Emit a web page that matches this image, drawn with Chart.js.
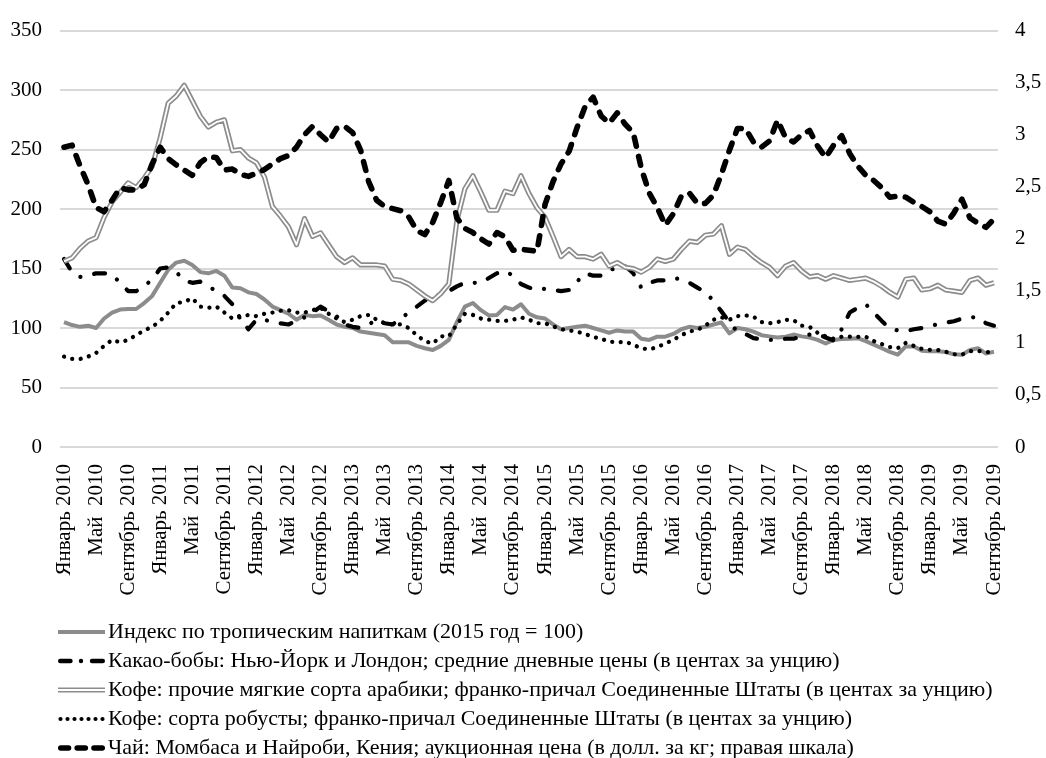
<!DOCTYPE html>
<html>
<head>
<meta charset="utf-8">
<script src="https://cdn.jsdelivr.net/npm/chart.js@4.4.1/dist/chart.umd.min.js"></script>
<style>
  html, body { margin: 0; padding: 0; background: #ffffff; }
  #wrap { width: 1046px; height: 758px; }
</style>
</head>
<body>
<div id="wrap"><canvas id="chart" width="1046" height="758"></canvas></div>
<script>
// Monthly series, January 2010 - September 2019
const START_YEAR = 2010;
const MONTH_COUNT = 117;
const MONTH_NAMES = ['Январь', 'Февраль', 'Март', 'Апрель', 'Май', 'Июнь',
  'Июль', 'Август', 'Сентябрь', 'Октябрь', 'Ноябрь', 'Декабрь'];

// Axis labels shown every fourth month
const TICK_LABELS = [
  'Январь 2010', 'Май  2010', 'Сентябрь 2010',
  'Январь 2011', 'Май  2011', 'Сентябрь 2011',
  'Январь 2012', 'Май  2012', 'Сентябрь 2012',
  'Январь 2013', 'Май  2013', 'Сентябрь 2013',
  'Январь 2014', 'Май  2014', 'Сентябрь 2014',
  'Январь 2015', 'Май  2015', 'Сентябрь 2015',
  'Январь 2016', 'Май  2016', 'Сентябрь 2016',
  'Январь 2017', 'Май  2017', 'Сентябрь 2017',
  'Январь 2018', 'Май  2018', 'Сентябрь 2018',
  'Январь 2019', 'Май  2019', 'Сентябрь 2019'
];
const LEFT_TICKS = [0, 50, 100, 150, 200, 250, 300, 350];
const RIGHT_TICKS = [0, 0.5, 1, 1.5, 2, 2.5, 3, 3.5, 4];

const SERIES_NAMES = [
  'Индекс по тропическим напиткам (2015 год = 100)',
  'Какао-бобы: Нью-Йорк и Лондон; средние дневные цены (в центах за унцию)',
  'Кофе: прочие мягкие сорта арабики; франко-причал Соединенные Штаты (в центах за унцию)',
  'Кофе: сорта робусты; франко-причал Соединенные Штаты (в центах за унцию)',
  'Чай: Момбаса и Найроби, Кения; аукционная цена (в долл. за кг; правая шкала)'
];

// Tropical beverages index (2015 = 100)
const BEVERAGE_INDEX = [
  105, 102.5, 101, 102, 100, 108, 113, 115.5, 116, 116, 121, 127,
  138, 149, 155, 156.5, 153, 147, 146, 148, 144, 134, 133.5, 130,
  128.6, 124, 118, 115, 112, 107, 111, 110, 110.5, 107, 103, 101,
  100, 97, 96, 95, 94, 88, 88, 88, 85, 83, 81.5, 85,
  90, 105, 118, 121, 115, 110.6, 111, 117.6, 115.5, 120, 112, 109,
  108, 103, 99, 100, 101, 102, 100, 98, 96, 98, 97, 97,
  91, 90, 92.7, 92.7, 95, 99, 101, 100, 101, 103, 104.6, 95.5,
  100, 99, 97, 94, 93, 92, 92.7, 94.5, 93, 92, 90, 87,
  90, 90.8, 91, 91.5, 89, 86, 83, 80, 77.6, 84.5, 84.5, 81,
  80.5, 80.5, 79.8, 78, 77.6, 81.5, 83, 78.5, 80
];

// Cocoa beans, US cents
const COCOA = [
  158, 147, 143, 144, 146, 146, 145, 138, 131, 131, 135, 141,
  150, 151, 147, 140, 138, 139, 135, 131, 127, 120, 108, 99,
  107, 107, 105, 104, 103, 106, 109, 113, 118, 114, 110, 103,
  101, 100, 103, 107, 104, 103, 108, 113, 118, 123, 127, 128,
  131, 135, 138, 138, 138, 142, 146, 148, 144, 137, 134, 132,
  133, 132, 131, 132, 139, 146, 144, 144, 149, 150, 152, 146,
  134, 138, 140, 140, 142, 141, 138, 134, 130, 123, 114, 105,
  97, 95, 91.5, 90.5, 90, 90.5, 91, 91, 93, 94.5, 95, 92,
  89.5, 99, 113, 117, 120, 113, 106, 99.5, 98, 97.4, 99, 100,
  102, 103, 104.5, 105.7, 108, 109, 109, 104, 102
];

// Coffee, other mild arabicas, US cents
const ARABICA = [
  156, 159, 167, 173, 176, 193, 206, 214, 222, 218, 226, 236,
  260, 289, 295, 304, 291, 278, 269, 273, 275, 249, 250, 243,
  239, 227, 202, 194, 185, 170, 192, 177, 180, 170, 160, 155,
  159, 153, 153, 153, 152, 141, 140, 137, 132, 127, 123, 129,
  137, 190, 217, 228, 214, 199, 199, 215, 213, 228, 213, 201,
  193, 177, 160, 166, 160, 160, 158, 162, 152, 155, 151, 150,
  147, 151, 158, 156, 158, 166, 173, 172, 178, 179, 186, 162,
  168, 166, 160, 155, 151, 144, 152, 155, 148, 143, 144, 141,
  144, 142, 140, 141, 142, 139, 135, 130, 126, 141, 142, 132,
  133, 136, 132, 131, 130, 140, 142, 136, 138
];

// Coffee, robusta, US cents
const ROBUSTA = [
  76, 74, 74, 76, 79, 85, 90, 88, 90, 94, 98, 101,
  106, 113, 121, 122, 125, 118, 117, 118, 113, 108, 109, 111,
  110, 112, 113, 114.5, 115, 113, 113, 115, 117, 112, 108, 105,
  107, 110, 111, 107, 104, 103, 103, 100, 94, 89, 87, 93,
  93, 103, 112, 111, 108, 107, 106, 106, 107, 109, 107, 104,
  104, 101.5, 99, 98, 97, 95, 92.5, 91, 88.5, 88, 88.5, 86,
  83, 82, 84, 87, 90, 94, 97, 98.5, 102, 107, 109, 107,
  110, 110.7, 109.5, 105, 104, 105, 107, 106.6, 102, 101, 96, 93,
  91, 92.7, 92.7, 92.5, 92.7, 89, 86.5, 84, 83, 87.5, 85, 82.5,
  81.7, 81.5, 80, 78, 77.6, 80.5, 80.7, 80, 79
];

// Tea, Mombasa / Nairobi auction, USD per kg (right scale)
const TEA = [
  2.88, 2.90, 2.70, 2.52, 2.30, 2.26, 2.37, 2.49, 2.47, 2.47, 2.52, 2.72,
  2.88, 2.77, 2.71, 2.66, 2.61, 2.73, 2.79, 2.78, 2.66, 2.67, 2.62, 2.60,
  2.63, 2.665, 2.72, 2.77, 2.80, 2.88, 3.00, 3.08, 3.00, 2.93, 3.06, 3.08,
  3.02, 2.85, 2.55, 2.37, 2.31, 2.29, 2.27, 2.21, 2.08, 2.04, 2.16, 2.35,
  2.56, 2.20, 2.10, 2.06, 2.00, 1.95, 2.06, 2.02, 1.89, 1.90, 1.89, 1.88,
  2.33, 2.55, 2.72, 2.84, 3.07, 3.27, 3.36, 3.18, 3.11, 3.21, 3.10, 3.02,
  2.68, 2.44, 2.30, 2.13, 2.24, 2.41, 2.44, 2.34, 2.34, 2.42, 2.62, 2.85,
  3.06, 3.06, 2.93, 2.88, 2.94, 3.14, 2.97, 2.93, 3.00, 3.04, 2.89, 2.78,
  2.90, 2.99, 2.82, 2.70, 2.61, 2.56, 2.49, 2.40, 2.41, 2.40, 2.35, 2.31,
  2.26, 2.17, 2.14, 2.25, 2.38, 2.20, 2.15, 2.11, 2.19
];

const MONTHS = [];
for (let i = 0; i < MONTH_COUNT; i++) {
  MONTHS.push(MONTH_NAMES[i % 12] + ' ' + (START_YEAR + Math.floor(i / 12)));
}

const GRAY = '#8c8c8c';
const FONT_FAMILY = "'Liberation Serif', 'Times New Roman', serif";

// Legend swatches: the visible stroke occupies the right 47px of the canvas
function swatch(draw) {
  const c = document.createElement('canvas');
  c.width = 108; c.height = 12;
  const g = c.getContext('2d');
  g.translate(60, 6);
  draw(g);
  return c;
}
function seg(g, x0, x1, w, color, cap) {
  g.beginPath();
  g.lineCap = cap || 'butt';
  g.lineWidth = w;
  g.strokeStyle = color;
  g.moveTo(x0, 0); g.lineTo(x1, 0);
  g.stroke();
}
const SWATCHES = [
  swatch(g => seg(g, 0, 47, 4, GRAY)),
  swatch(g => {
    seg(g, 2.2, 12.5, 4.4, '#000', 'round');
    g.beginPath(); g.fillStyle = '#000'; g.arc(23, 0, 2.2, 0, Math.PI * 2); g.fill();
    seg(g, 34, 44.8, 4.4, '#000', 'round');
  }),
  swatch(g => { seg(g, 0, 47, 5.2, GRAY); seg(g, 0, 47, 1.8, '#fff'); }),
  swatch(g => {
    g.fillStyle = '#000';
    for (let k = 0; k < 7; k++) { g.beginPath(); g.arc(2.5 + k * 7, 0, 2.1, 0, Math.PI * 2); g.fill(); }
  }),
  swatch(g => {
    seg(g, 2.8, 10.5, 5.6, '#000', 'round');
    seg(g, 19.2, 27.3, 5.6, '#000', 'round');
    seg(g, 36, 44.2, 5.6, '#000', 'round');
  })
];

const lineBase = { pointRadius: 0, pointHoverRadius: 0, tension: 0, fill: false, borderJoinStyle: 'round' };

const data = {
  labels: MONTHS,
  datasets: [
    Object.assign({}, lineBase, { label: SERIES_NAMES[0], data: BEVERAGE_INDEX, yAxisID: 'y',
      borderColor: GRAY, borderWidth: 4, order: 5 }),
    Object.assign({}, lineBase, { label: SERIES_NAMES[1], data: COCOA, yAxisID: 'y',
      borderColor: '#000', borderWidth: 4.2, borderDash: [11, 14, 0.1, 14], borderCapStyle: 'round', order: 4 }),
    Object.assign({}, lineBase, { label: SERIES_NAMES[2], data: ARABICA, yAxisID: 'y',
      borderColor: GRAY, borderWidth: 5.2, order: 3 }),
    Object.assign({}, lineBase, { label: '', data: ARABICA, yAxisID: 'y',
      borderColor: '#ffffff', borderWidth: 1.8, order: 2 }),
    Object.assign({}, lineBase, { label: SERIES_NAMES[3], data: ROBUSTA, yAxisID: 'y',
      borderColor: '#000', borderWidth: 4.2, borderDash: [0.1, 8.4], borderCapStyle: 'round', order: 1 }),
    Object.assign({}, lineBase, { label: SERIES_NAMES[4], data: TEA, yAxisID: 'y1',
      borderColor: '#000', borderWidth: 5.6, borderDash: [9, 10.5], borderCapStyle: 'round', order: 0 })
  ]
};
const LEGEND_DATASETS = [0, 1, 2, 4, 5];

new Chart(document.getElementById('chart'), {
  type: 'line',
  data: data,
  options: {
    responsive: false,
    animation: false,
    devicePixelRatio: 1,
    layout: { padding: { left: 0, right: 0, top: 24, bottom: -11 } },
    plugins: {
      tooltip: { enabled: false },
      legend: {
        position: 'bottom',
        align: 'start',
        labels: {
          usePointStyle: true,
          pointStyleWidth: 90,
          padding: 7,
          color: '#000',
          font: { family: FONT_FAMILY, size: 22 },
          generateLabels: () => LEGEND_DATASETS.map((di, k) => ({
            text: SERIES_NAMES[k],
            pointStyle: SWATCHES[k],
            datasetIndex: di,
            hidden: false,
            lineWidth: 0,
            fillStyle: 'transparent',
            strokeStyle: 'transparent',
            fontColor: '#000'
          }))
        }
      }
    },
    scales: {
      x: {
        type: 'category',
        offset: true,
        grid: { display: false },
        border: { display: false },
        afterFit: (s) => { s.height = 167; },
        ticks: {
          autoSkip: false,
          maxRotation: 90,
          minRotation: 90,
          padding: 9,
          color: '#000',
          font: { family: FONT_FAMILY, size: 21 },
          callback: (v, i) => (i % 4 === 0 ? TICK_LABELS[i / 4] : '')
        }
      },
      y: {
        position: 'left',
        min: LEFT_TICKS[0],
        max: LEFT_TICKS[LEFT_TICKS.length - 1],
        afterFit: (s) => { s.width = 60; },
        afterBuildTicks: (s) => { s.ticks = LEFT_TICKS.map(v => ({ value: v })); },
        grid: { color: '#d9d9d9', lineWidth: 2, drawTicks: false },
        border: { display: false },
        ticks: {
          padding: 18,
          color: '#000',
          font: { family: FONT_FAMILY, size: 21 },
          callback: (v) => String(v)
        }
      },
      y1: {
        position: 'right',
        min: RIGHT_TICKS[0],
        max: RIGHT_TICKS[RIGHT_TICKS.length - 1],
        afterFit: (s) => { s.width = 48; },
        afterBuildTicks: (s) => { s.ticks = RIGHT_TICKS.map(v => ({ value: v })); },
        grid: { display: false, drawTicks: false },
        border: { display: false },
        ticks: {
          padding: 17,
          color: '#000',
          font: { family: FONT_FAMILY, size: 21 },
          callback: (v) => String(v).replace('.', ',')
        }
      }
    }
  }
});
</script>
</body>
</html>
